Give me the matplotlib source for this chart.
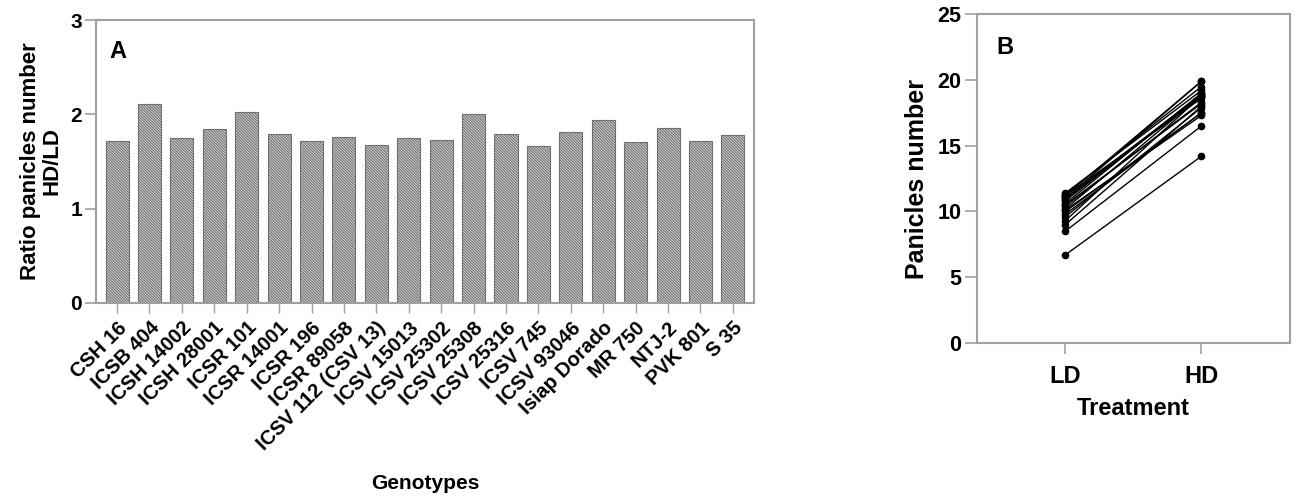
import matplotlib.pyplot as plt

plt.rcParams['font.family'] = ['Liberation Sans', 'DejaVu Sans']
plt.rcParams['font.weight'] = 'bold'
plt.rcParams['axes.labelweight'] = 'bold'
plt.rcParams['hatch.linewidth'] = 0.9
plt.rcParams['hatch.color'] = '#505050'

# Panel A data
genotypes = ['CSH 16', 'ICSB 404', 'ICSH 14002', 'ICSH 28001', 'ICSR 101',
             'ICSR 14001', 'ICSR 196', 'ICSR 89058', 'ICSV 112 (CSV 13)',
             'ICSV 15013', 'ICSV 25302', 'ICSV 25308', 'ICSV 25316', 'ICSV 745',
             'ICSV 93046', 'Isiap Dorado', 'MR 750', 'NTJ-2', 'PVK 801', 'S 35']
ratio = [1.72, 2.11, 1.75, 1.84, 2.02, 1.79, 1.72, 1.76, 1.68, 1.75,
         1.73, 2.00, 1.79, 1.66, 1.81, 1.94, 1.71, 1.86, 1.72, 1.78]

# Panel B data (one line per genotype)
treatments = ['LD', 'HD']
ld = [11.0, 6.7, 10.8, 10.2, 9.3, 10.6, 11.3, 10.4, 11.4, 10.0,
      10.5, 9.0, 9.8, 11.2, 11.0, 8.5, 10.1, 9.6, 10.9, 11.2]
hd = [18.9, 14.2, 18.9, 18.8, 18.8, 19.0, 19.5, 18.3, 19.2, 17.5,
      18.2, 18.0, 17.5, 18.6, 19.9, 16.5, 17.3, 17.9, 18.8, 19.9]

fig = plt.figure(figsize=(12.99, 4.99), dpi=100)
spine_col = '#a0a0a0'

# ---- Panel A ----
ax1 = fig.add_axes([0.0739, 0.3928, 0.5065, 0.567])
x = range(len(genotypes))
ax1.bar(x, ratio, width=0.71, color='#f0f0f0', edgecolor='#707070',
        hatch='\\' * 12, linewidth=0.8)
ax1.set_xlim(-0.65, len(genotypes) - 0.35)
ax1.set_ylim(0, 3)
ax1.set_yticks([0, 1, 2, 3])
ax1.set_xticks(list(x))
ax1.set_xticklabels(genotypes, rotation=45, ha='right', rotation_mode='anchor',
                    fontsize=14.5)
ax1.tick_params(axis='y', labelsize=15, length=8, width=1.2, color=spine_col, pad=2)
ax1.tick_params(axis='x', length=7, width=1.0, color=spine_col, pad=4)
ax1.set_ylabel('Ratio panicles number\nHD/LD', fontsize=16, linespacing=1.0,
               labelpad=6)
ax1.set_xlabel('Genotypes', fontsize=15, labelpad=14)
ax1.text(0.021, 0.866, 'A', transform=ax1.transAxes, fontsize=17)
for s in ax1.spines.values():
    s.set_color(spine_col)
    s.set_linewidth(1.5)

# ---- Panel B ----
ax2 = fig.add_axes([0.752, 0.3126, 0.241, 0.659])
for a, b in zip(ld, hd):
    ax2.plot([0, 1], [a, b], color='black', linewidth=1.0, marker='o',
             markersize=4.5)
ax2.set_xlim(-0.65, 1.65)
ax2.set_ylim(0, 25)
ax2.set_yticks([0, 5, 10, 15, 20, 25])
ax2.set_xticks([0, 1])
ax2.set_xticklabels(treatments, fontsize=17)
ax2.tick_params(axis='y', labelsize=15.5, length=9, width=1.2, color=spine_col, pad=2)
ax2.tick_params(axis='x', length=8, width=1.2, color=spine_col, pad=8)
ax2.set_ylabel('Panicles number', fontsize=18, labelpad=6)
ax2.set_xlabel('Treatment', fontsize=17, labelpad=6)
ax2.text(0.061, 0.878, 'B', transform=ax2.transAxes, fontsize=17)
for s in ax2.spines.values():
    s.set_color(spine_col)
    s.set_linewidth(1.5)

fig.savefig('out.png', dpi=100)
